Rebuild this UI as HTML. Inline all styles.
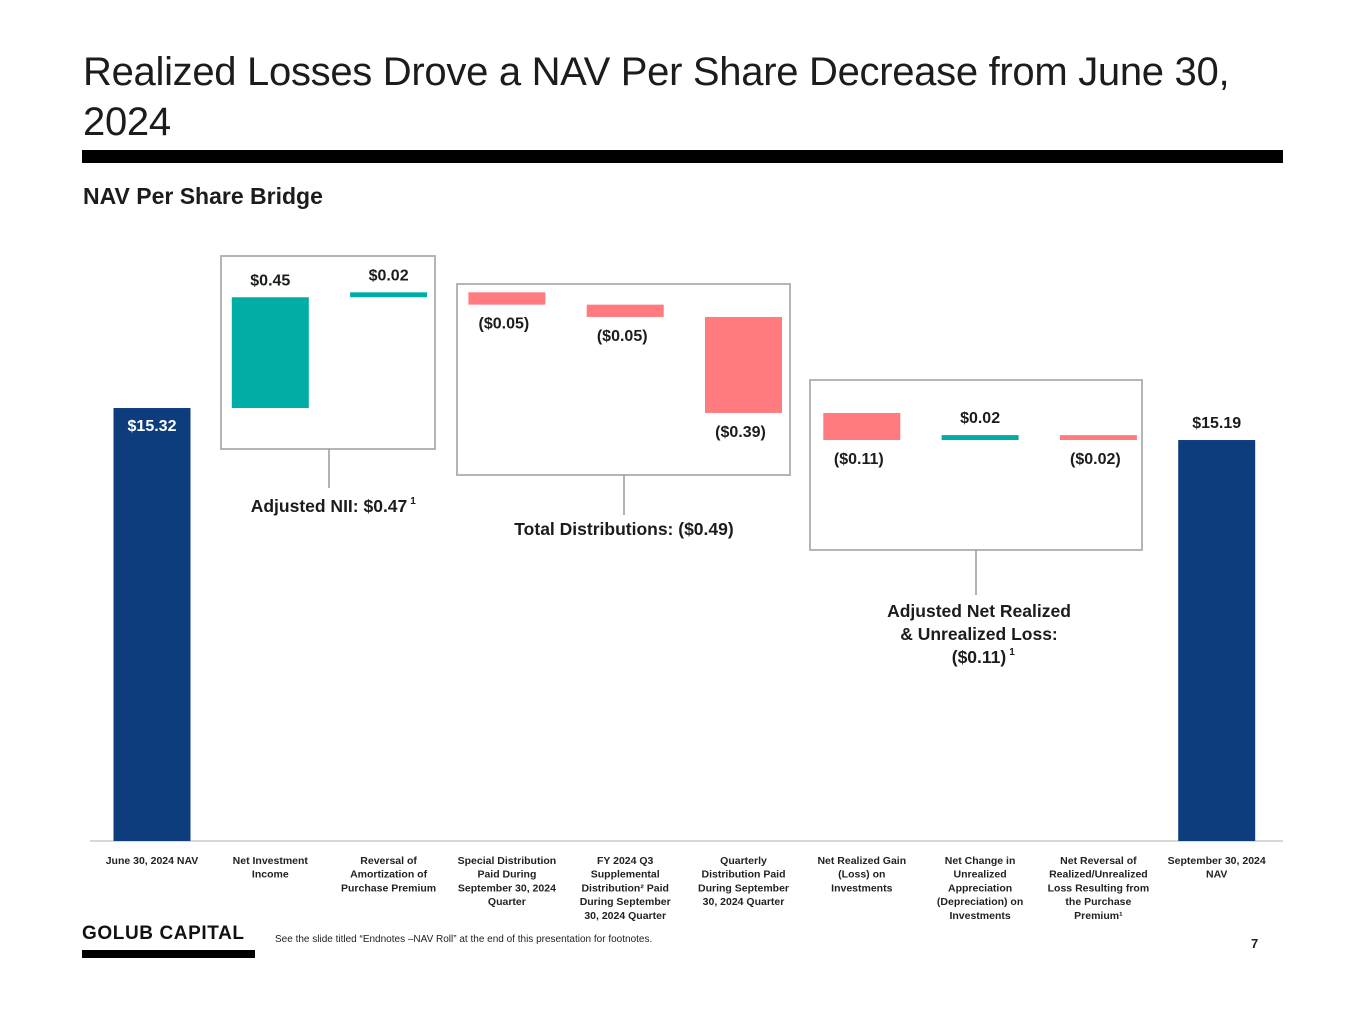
<!DOCTYPE html>
<html><head><meta charset="utf-8">
<style>
body{margin:0;background:#fff;width:1365px;height:1024px;overflow:hidden;font-family:"Liberation Sans",sans-serif;position:relative}
.t{position:absolute;left:83px;top:47px;font-size:40px;line-height:50px;color:#1c1c1c;letter-spacing:-0.3px}
</style></head><body>
<div class="t">Realized Losses Drove a NAV Per Share Decrease from June 30,<br>2024</div>
<div style="position:absolute;left:82px;top:150px;width:1201px;height:13px;background:#000"></div>
<div style="position:absolute;left:83px;top:183px;font-size:23px;font-weight:bold;color:#1c1c1c">NAV Per Share Bridge</div>
<svg id="c" width="1365" height="1024" style="position:absolute;left:0;top:0" font-family="Liberation Sans, sans-serif"></svg>
<div style="position:absolute;left:82px;top:923px;font-size:19px;font-weight:bold;letter-spacing:0.6px;color:#111">GOLUB CAPITAL</div>
<div style="position:absolute;left:82px;top:950px;width:173px;height:8px;background:#000"></div>
<div style="position:absolute;left:275px;top:934px;font-size:10px;color:#222">See the slide titled “Endnotes –NAV Roll” at the end of this presentation for footnotes.</div>
<div style="position:absolute;left:1251px;top:936px;font-size:13px;font-weight:bold;color:#222">7</div>
<script>
const categories=[["June 30, 2024 NAV"],["Net Investment","Income"],["Reversal of","Amortization of","Purchase Premium"],["Special Distribution","Paid During","September 30, 2024","Quarter"],["FY 2024 Q3","Supplemental","Distribution² Paid","During September","30, 2024 Quarter"],["Quarterly","Distribution Paid","During September","30, 2024 Quarter"],["Net Realized Gain","(Loss) on","Investments"],["Net Change in","Unrealized","Appreciation","(Depreciation) on","Investments"],["Net Reversal of","Realized/Unrealized","Loss Resulting from","the Purchase","Premium¹"],["September 30, 2024","NAV"]];
const startNav=15.32;
const changes=[0.45,0.02,-0.05,-0.05,-0.39,-0.11,0.02,-0.02];
const endNav=15.19;
const valueLabels=["$15.32","$0.45","$0.02","($0.05)","($0.05)","($0.39)","($0.11)","$0.02","($0.02)","$15.19"];
const svg=document.getElementById('c');const NS='http://www.w3.org/2000/svg';
const base=841,k=246.15,vmin=13.561;
const y=v=>base-(v-vmin)*k;
const xc=i=>152+i*118.3;const bw=77;
function mk(t,a,p){const e=document.createElementNS(NS,t);for(const q in a)e.setAttribute(q,a[q]);(p||svg).appendChild(e);return e;}
const boxes=[[221,256,214,193,329,488],[457,284,333,191,624,515],[810,380,332,170,976,595]];
boxes.forEach((b,i)=>{const r=mk('rect',{x:b[0],y:b[1],width:b[2],height:b[3],fill:'none',stroke:'#b5b5b5','stroke-width':2});


const l=mk('line',{x1:b[4],x2:b[4],y1:b[1]+b[3],y2:b[5],stroke:'#999','stroke-width':1.5});

});
const ln=mk('line',{x1:90,x2:1283,y1:841,y2:841,stroke:'#ccc','stroke-width':1.5});


function txt(s,x,yy,o){const t=mk('text',Object.assign({x:x,y:yy,'text-anchor':'middle','font-weight':'bold','font-size':16,fill:'#1c1c1c'},o||{}));t.textContent=s;return t;}
let run=startNav;
const vals=[startNav].concat(changes).concat([endNav]);
vals.forEach((v,i)=>{let top,bot,col;
 if(i==0||i==vals.length-1){top=y(v);bot=base;col='#0d3d7d';}
 else{const a=run,b=run+v;top=y(Math.max(a,b));bot=y(Math.min(a,b));col=v>=0?'#00aca4':'#ff7b80';run=b;}
 const r=mk('rect',{x:xc(i)-bw/2,y:top,width:bw,height:Math.max(bot-top,4),fill:col});
 
 
 let ly,o={};
 if(i==0){ly=top+23;o.fill='#fff';}
 else if(i==vals.length-1)ly=top-12;
 else if(v>=0)ly=top-12;else ly=bot+24;
 const t=txt(valueLabels[i],xc(i)+(i>0&&i<vals.length-1&&v<0?-3:0),ly,o);
 
 
 categories[i].forEach((s,j)=>{const c=txt(s,xc(i),864+j*13.7,{'font-size':10.5,fill:'#222'});
 
 });
});
const ann=[["Adjusted NII: $0.47",329,512,"1"],["Total Distributions: ($0.49)",624,535,""],["Adjusted Net Realized",979,617,""],["& Unrealized Loss:",979,640,""],["($0.11)",979,663,"1"]];
ann.forEach(a=>{const t=txt(a[0],a[1],a[2],{'font-size':17.5});
 
 
 if(a[3]){const w=t.getComputedTextLength();const s=txt(a[3],a[1]+w/2+3,a[2]-8,{'font-size':10,'text-anchor':'start'});
 
 }});
</script>
</body></html>
